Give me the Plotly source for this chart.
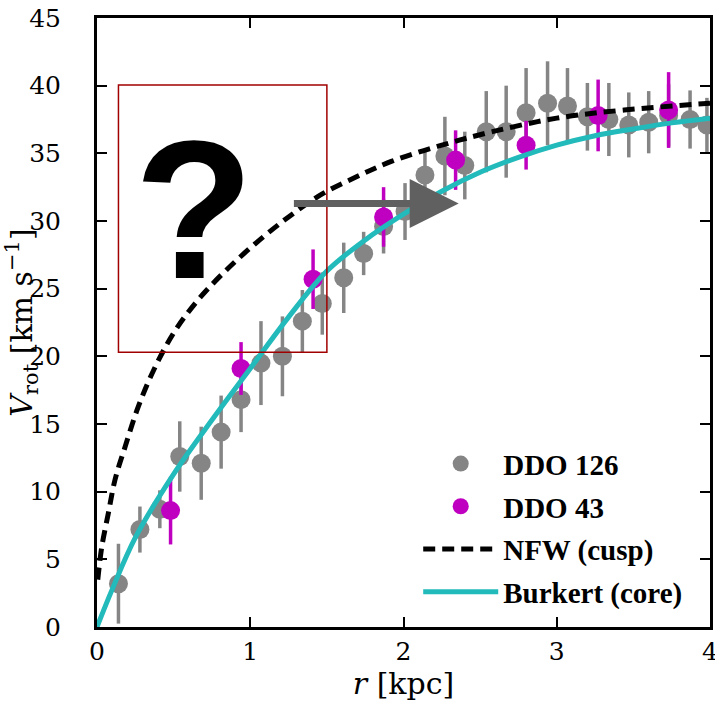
import plotly.graph_objects as go

# DDO 126 (grey points)
r_126 = [0.14, 0.28, 0.41, 0.54, 0.68, 0.81, 0.94, 1.07, 1.21, 1.34, 1.47, 1.61, 1.74, 1.87, 2.01,
         2.14, 2.27, 2.40, 2.54, 2.67, 2.80, 2.94, 3.07, 3.20, 3.34, 3.47, 3.60, 3.73, 3.87, 3.98]
v_126 = [3.2, 7.2, 8.7, 12.6, 12.1, 14.4, 16.8, 19.5, 20.0, 22.6, 23.9, 25.8, 27.6, 29.6, 30.7,
         33.4, 34.8, 34.1, 36.6, 36.6, 38.0, 38.7, 38.5, 37.7, 37.5, 37.1, 37.3, 37.8, 37.5, 37.1]
e_126 = [2.95, 1.7, 1.4, 2.6, 2.7, 2.7, 2.4, 3.1, 2.95, 2.3, 2.3, 2.6, 1.6, 2.0, 2.1,
         1.7, 2.9, 2.5, 3.0, 3.4, 3.3, 3.1, 2.8, 2.5, 2.7, 2.4, 2.3, 2.3, 2.15, 2.0]

# DDO 43 (magenta points)
r_43 = [0.48, 0.94, 1.41, 1.87, 2.34, 2.80, 3.27, 3.73]
v_43 = [8.6, 19.1, 25.7, 30.3, 34.5, 35.6, 37.8, 38.2]
e_43 = [2.5, 1.95, 2.2, 2.2, 2.2, 1.8, 2.65, 2.8]

# model curves
r_nfw = [0.005, 0.031, 0.074, 0.118, 0.183, 0.27, 0.379, 0.51, 0.662, 0.837, 1.03, 1.25,
         1.47, 1.70, 1.92, 2.25, 2.58, 3.0, 3.44, 4.0]
v_nfw = [3.5, 5.9, 8.4, 10.9, 13.3, 16.3, 19.2, 21.9, 24.2, 26.3, 28.3, 30.3,
         32.0, 33.3, 34.4, 35.6, 36.6, 37.6, 38.2, 38.7]

r_bur = [0.0, 0.1, 0.25, 0.5, 0.75, 1.0, 1.25, 1.5, 1.75, 2.0, 2.25, 2.5, 2.75, 3.0, 3.25,
         3.5, 3.75, 4.0]
v_bur = [0.0, 2.8, 6.6, 11.3, 15.3, 19.1, 22.9, 26.3, 28.6, 30.5, 32.2, 33.6, 34.7, 35.6, 36.3,
         36.8, 37.25, 37.6]

GREY = '#858585'
MAGENTA = '#c000c0'
CYAN = '#22baba'
SERIF = 'DejaVu Serif'

fig = go.Figure()

fig.add_scatter(x=r_126, y=v_126, mode='markers', name='DDO 126', legendgroup='a',
                marker=dict(color=GREY, size=19),
                error_y=dict(type='data', array=e_126, color=GREY, thickness=3.5, width=0))
fig.add_scatter(x=r_43, y=v_43, mode='markers', name='DDO 43', legendgroup='b',
                marker=dict(color=MAGENTA, size=19),
                error_y=dict(type='data', array=e_43, color=MAGENTA, thickness=3.5, width=0))
fig.add_scatter(x=r_nfw, y=v_nfw, mode='lines', name='NFW (cusp)', legendgroup='c',
                line=dict(color='black', width=5, dash='12px,7px', shape='spline'))
fig.add_scatter(x=r_bur, y=v_bur, mode='lines', name='Burkert (core)', legendgroup='d',
                line=dict(color=CYAN, width=5, shape='spline'))

# red box, question mark and arrow
fig.add_shape(type='rect', x0=0.14, x1=1.5, y0=20.3, y1=40.05,
              line=dict(color='#a00000', width=1.5))
fig.add_annotation(x=0.634, y=30.8, text='<b>?</b>', showarrow=False,
                   font=dict(family='Liberation Sans', size=196, color='black'))
fig.add_annotation(x=2.36, y=31.3, ax=1.275, ay=31.3, axref='x', ayref='y', text='',
                   showarrow=True, arrowhead=2, arrowsize=1.4, arrowwidth=7, arrowcolor='#606060')

axis_common = dict(showline=True, linewidth=3, linecolor='black', mirror='ticks',
                   ticks='inside', ticklen=10, tickwidth=2, tickcolor='black',
                   showgrid=False, zeroline=False, automargin=False,
                   tickfont=dict(family=SERIF, size=25, color='black'))

fig.update_layout(
    width=715, height=705,
    margin=dict(l=97, r=5, t=18, b=78),
    plot_bgcolor='white', paper_bgcolor='white',
    xaxis=dict(range=[0, 4], tickvals=[0, 1, 2, 3, 4], ticklabeloverflow='allow',
               title=dict(text='<i>r</i> [kpc]', font=dict(family=SERIF, size=30, color='black'),
                          standoff=8),
               **axis_common),
    yaxis=dict(range=[0, 45], tickvals=list(range(0, 50, 5)), ticklabelstandoff=28,
               title=dict(text='<i>V</i><sub>rot</sub> [km s<sup>\u22121</sup>]',
                          font=dict(family=SERIF, size=30, color='black'), standoff=16),
               **axis_common),
    legend=dict(x=0.524, y=0.31, xanchor='left', yanchor='top', bgcolor='rgba(0,0,0,0)',
                itemwidth=75, tracegroupgap=2,
                font=dict(family='Liberation Serif', size=29, color='black', weight='bold')),
)

# the page body has a default 8px margin; drop it so the figure sits at the window corner
fig.write_html('out.html', config={'displayModeBar': False},
               post_script="document.body.style.margin='0';")
